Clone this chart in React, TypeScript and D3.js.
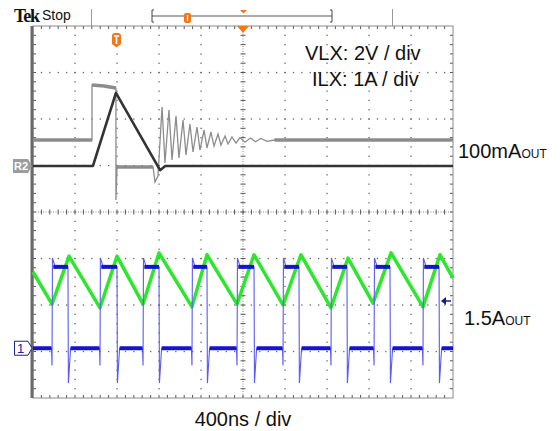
import React from 'react';
import * as d3 from 'd3';

const W = 560;
const H = 431;
// graticule frame in page pixels
const PX0 = 33, PX1 = 453, PY0 = 26, PY1 = 398;

// time axis: 400 ns / div, 10 divisions
const timeDomainNs = [0, 4000];
// vertical axis in divisions (8 divisions, centre = 0)
const divDomain = [-4, 4];

// CH1 (VLX, blue) switching edges in ns
const vlxRiseNs = [181, 638, 1048, 1514, 1943, 2381, 2838, 3248, 3714];
const vlxFallNs = [333, 800, 1200, 1657, 2105, 2533, 2990, 3400, 3867];
const vlxLowDiv = -2.93;
const vlxHighDiv = -1.18;
const vlxOvershootDiv = -0.99;
const vlxPreDipDiv = -3.3;
const vlxUndershootDiv = -3.68;

// ILX (green) triangle vertices
const ilxTimeNs = [0, 181, 343, 638, 800, 1048, 1200, 1514, 1657, 1943, 2105, 2381, 2552, 2838, 3000, 3238, 3410, 3714, 3876, 4000];
const ilxDiv = [-1.29, -1.98, -0.95, -2.06, -0.95, -1.98, -0.88, -2.04, -0.92, -1.98, -0.92, -2.0, -0.92, -2.06, -0.99, -1.96, -0.88, -2.04, -0.92, -1.42];

// R2 reference: VLX at 100 mA out (light grey)
const refVlxNs = [0, 562, 562, 676, 790, 790, 800, 1143, 1162, 1190, 1229, 1257, 1295, 1324, 1362, 1390, 1429, 1457, 1495, 1524, 1562, 1590, 1629, 1657, 1695, 1724, 1762, 1790, 1829, 1857, 1895, 1933, 1971, 2019, 2070, 2120, 2170, 2230, 2300, 4000];
const refVlxDiv = [1.548, 1.548, 2.731, 2.71, 2.667, 0.258, 0.968, 0.968, 0.645, 0.774, 2.258, 1.054, 2.194, 1.118, 2.065, 1.161, 1.978, 1.226, 1.892, 1.29, 1.828, 1.333, 1.763, 1.376, 1.72, 1.419, 1.677, 1.441, 1.634, 1.462, 1.613, 1.484, 1.6, 1.5, 1.59, 1.51, 1.58, 1.52, 1.548, 1.548];

// R2 reference: ILX at 100 mA out (dark grey)
const refIlxNs = [0, 571, 790, 1210, 1260, 4000];
const refIlxDiv = [0.99, 0.99, 2.56, 0.9, 0.99, 0.99];

const labelLines = ['VLX: 2V / div', 'ILX: 1A / div'];
const labelStartPx = [305, 312];

const FONT = '"Liberation Sans", Arial, sans-serif';

export default function App() {
  const x = d3.scaleLinear().domain(timeDomainNs).range([PX0, PX1]);
  const y = d3.scaleLinear().domain(divDomain).range([PY1, PY0]);
  const line = d3.line<[number, number]>().x(d => x(d[0])).y(d => y(d[1]));

  const divW = (PX1 - PX0) / 10;
  const divH = (PY1 - PY0) / 8;

  // graticule dots
  const dots: JSX.Element[] = [];
  for (let i = 1; i < 10; i++) {
    if (i === 5) continue;
    const gx = PX0 + i * divW;
    for (let k = 1; k < 40; k++) {
      dots.push(<rect key={`v${i}-${k}`} x={gx - 0.6} y={PY0 + k * divH / 5 - 0.6} width={1.3} height={1.3} fill="#666" />);
    }
  }
  for (let j = 1; j < 8; j++) {
    if (j === 4) continue;
    const gy = PY0 + j * divH;
    for (let k = 1; k < 50; k++) {
      dots.push(<rect key={`h${j}-${k}`} x={PX0 + k * divW / 5 - 0.6} y={gy - 0.6} width={1.3} height={1.3} fill="#666" />);
    }
  }
  // ticks on centre lines and frame
  const ticks: JSX.Element[] = [];
  const cx = PX0 + 5 * divW;
  const cy = PY0 + 4 * divH;
  for (let k = 1; k < 50; k++) {
    const tx = PX0 + k * divW / 5;
    ticks.push(<line key={`ct${k}`} x1={tx} x2={tx} y1={cy - 2.5} y2={cy + 2.5} stroke="#555" strokeWidth={1} />);
    ticks.push(<line key={`tt${k}`} x1={tx} x2={tx} y1={PY0} y2={PY0 + 3} stroke="#555" strokeWidth={1} />);
    ticks.push(<line key={`bt${k}`} x1={tx} x2={tx} y1={PY1} y2={PY1 - 3} stroke="#555" strokeWidth={1} />);
  }
  for (let k = 1; k < 40; k++) {
    const ty = PY0 + k * divH / 5;
    ticks.push(<line key={`cv${k}`} x1={cx - 2.5} x2={cx + 2.5} y1={ty} y2={ty} stroke="#555" strokeWidth={1} />);
    ticks.push(<line key={`lt${k}`} x1={PX0} x2={PX0 + 3} y1={ty} y2={ty} stroke="#555" strokeWidth={1} />);
    ticks.push(<line key={`rt${k}`} x1={PX1} x2={PX1 - 3} y1={ty} y2={ty} stroke="#555" strokeWidth={1} />);
  }

  // blue VLX path
  const bluePts: [number, number][] = [[0, vlxLowDiv]];
  const lowSegs: [number, number][] = [];
  const highSegs: [number, number][] = [];
  let lastLow = 0;
  vlxRiseNs.forEach((r, i) => {
    const f = vlxFallNs[i];
    lowSegs.push([lastLow, r - 5]);
    bluePts.push([r - 5, vlxLowDiv], [r, vlxPreDipDiv], [r + 4, vlxOvershootDiv], [r + 30, vlxHighDiv], [f, vlxHighDiv], [f + 4, vlxUndershootDiv], [f + 25, vlxLowDiv]);
    highSegs.push([r + 12, f]);
    lastLow = f + 25;
  });
  lowSegs.push([lastLow, 4000]);
  bluePts.push([4000, vlxLowDiv]);

  const greenPts = ilxTimeNs.map((t, i) => [t, ilxDiv[i]] as [number, number]);
  const refVlxPts = refVlxNs.map((t, i) => [t, refVlxDiv[i]] as [number, number]);
  const refIlxPts = refIlxNs.map((t, i) => [t, refIlxDiv[i]] as [number, number]);
  const refVlxFlats: [number, number][][] = [];
  for (let i = 1; i < refVlxPts.length; i++) {
    const a = refVlxPts[i - 1], b = refVlxPts[i];
    if (Math.abs(a[1] - b[1]) < 0.1 && b[0] - a[0] > 100) refVlxFlats.push([a, b]);
  }

  return (
    <svg width={W} height={H} style={{ position: 'absolute', left: 0, top: 0, background: '#fff' }}>
      <rect x={0} y={0} width={W} height={H} fill="#fff" />
      {/* header */}
      <text x={14} y={22} fontFamily='"Liberation Serif", serif' fontWeight="bold" fontSize={18} letterSpacing={-1.2} fill="#111">Tek</text>
      <text x={42} y={20} fontFamily={FONT} fontSize={14} fill="#111">Stop</text>
      <line x1={91.5} x2={91.5} y1={9} y2={26} stroke="#999" />
      <line x1={392.5} x2={392.5} y1={9} y2={26} stroke="#999" />
      <line x1={152} x2={332} y1={16} y2={16} stroke="#aaa" strokeWidth={2} />
      <path d="M154,10 H152 V22 H154" fill="none" stroke="#444" strokeWidth={1} />
      <path d="M330,10 H332 V22 H330" fill="none" stroke="#444" strokeWidth={1} />
      <rect x={184} y={13} width={7} height={10} rx={2} fill="#f07818" />
      <line x1={187.5} x2={187.5} y1={15} y2={21} stroke="#fff" strokeWidth={1.2} />
      <path d="M240,10 L247,10 L243.5,13.5 Z" fill="#f07818" />

      {/* graticule */}
      {dots}
      <line x1={PX0} x2={PX1} y1={cy} y2={cy} stroke="#888" strokeDasharray="1,1.5" />
      <line x1={cx} x2={cx} y1={PY0} y2={PY1} stroke="#888" strokeDasharray="1,1.5" />
      {ticks}
      <rect x={PX0} y={PY0} width={PX1 - PX0} height={PY1 - PY0} fill="none" stroke="#8a8a8a" strokeWidth={1} />
      <line x1={PX0 - 1} x2={PX0 - 1} y1={PY0} y2={PY1} stroke="#6a6a6a" strokeWidth={3} />

      {/* reference traces */}
      <path d={line(refVlxPts) || ''} fill="none" stroke="#8c8c8c" strokeWidth={1.3} />
      {refVlxFlats.map((s, i) => (
        <path key={`rf${i}`} d={line(s) || ''} fill="none" stroke="#8c8c8c" strokeWidth={3.5} />
      ))}
      <path d={line(refIlxPts) || ''} fill="none" stroke="#333" strokeWidth={2.6} strokeLinejoin="round" />

      {/* green ILX */}
      <path d={line(greenPts) || ''} fill="none" stroke="#2fe62f" strokeWidth={3.5} strokeLinejoin="round" />

      {/* CH1 blue */}
      <path d={line(bluePts) || ''} fill="none" stroke="#5a5af5" strokeWidth={1.1} />
      {lowSegs.map((s, i) => (
        <line key={`lo${i}`} x1={x(s[0])} x2={x(s[1])} y1={y(vlxLowDiv)} y2={y(vlxLowDiv)} stroke="#1414cc" strokeWidth={4} />
      ))}
      {highSegs.map((s, i) => (
        <line key={`hi${i}`} x1={x(s[0])} x2={x(s[1])} y1={y(vlxHighDiv)} y2={y(vlxHighDiv)} stroke="#1414cc" strokeWidth={4} />
      ))}

      {/* markers */}
      <path d="M112,36 Q112,33 115,33 L118,33 Q121,33 121,36 L121,44 L116.5,47.5 L112,44 Z" fill="#f07818" />
      <path d="M113.8,36 H119.2 M116.5,36 V44" stroke="#fff" strokeWidth={1.6} fill="none" />
      <path d={`M237,${PY0} L249,${PY0} L243,${PY0 + 7} Z`} fill="#f07818" />
      <path d={`M13,159 H28 L32,${y(refIlxDiv[0])} L28,173 H13 Z`} fill="#9c9c9c" />
      <text x={14} y={170} fontFamily={FONT} fontWeight="bold" fontSize={11} fill="#fff">R2</text>
      <path d={`M14.5,${y(vlxLowDiv) - 7} H28 L32,${y(vlxLowDiv)} L28,${y(vlxLowDiv) + 7} H14.5 Z`} fill="#fff" stroke="#202090" strokeWidth={1} />
      <text x={17} y={y(vlxLowDiv) + 5} fontFamily={FONT} fontSize={13} fill="#202090">1</text>
      <path d="M441,301 L446,297 L446,305 Z" fill="#1a1a8a" />
      <line x1={446} x2={451} y1={301} y2={301} stroke="#1a1a8a" strokeWidth={1.5} />

      {/* annotations */}
      {labelLines.map((t, i) => (
        <text key={t} x={labelStartPx[i]} y={60 + i * 26} fontFamily={FONT} fontSize={20} fill="#111">{t}</text>
      ))}
      <text x={458} y={158} fontFamily={FONT} fontSize={20} fill="#111">100mA<tspan fontSize={12}>OUT</tspan></text>
      <text x={464} y={325} fontFamily={FONT} fontSize={20} fill="#111">1.5A<tspan fontSize={12}>OUT</tspan></text>
      <text x={243} y={426} textAnchor="middle" fontFamily={FONT} fontSize={20} fill="#111">400ns / div</text>
    </svg>
  );
}
